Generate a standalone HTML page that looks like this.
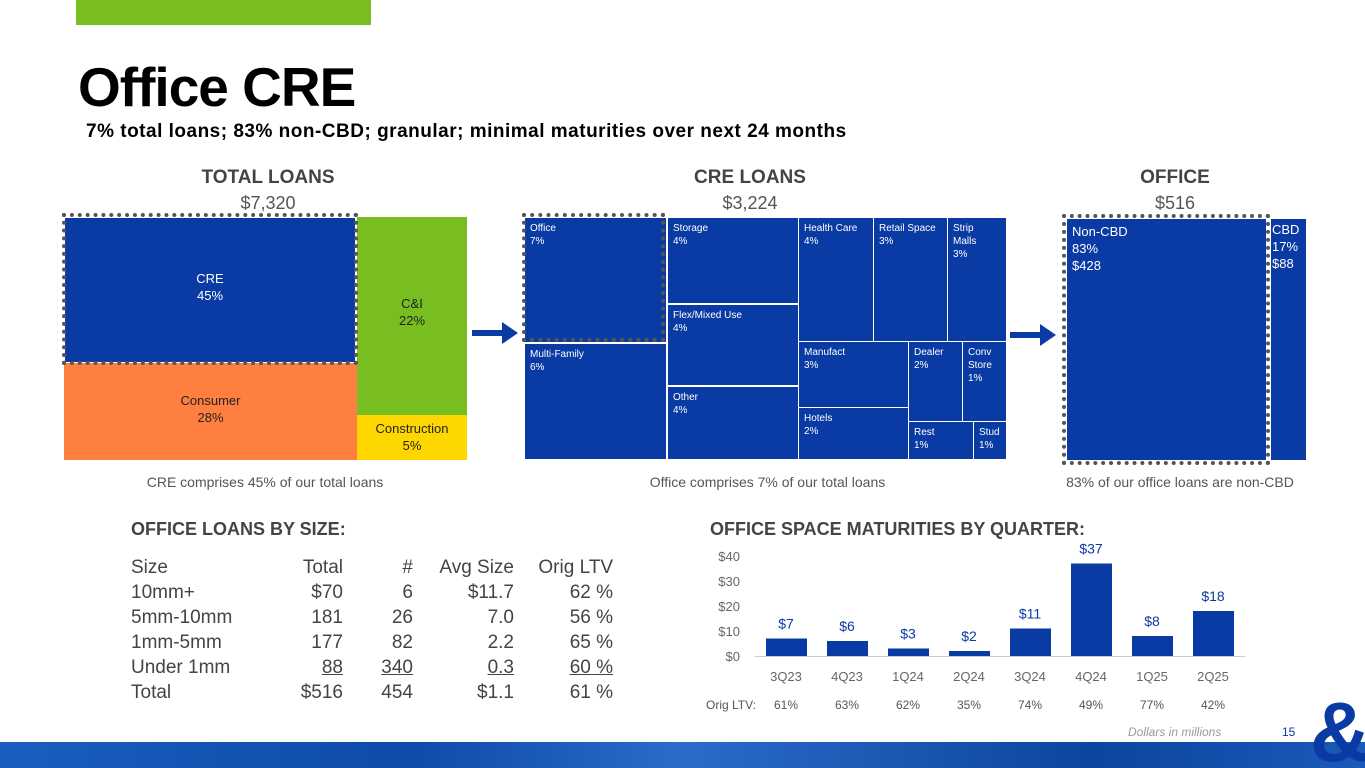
<!DOCTYPE html>
<html><head><meta charset="utf-8">
<style>
body{margin:0;width:1365px;height:768px;position:relative;overflow:hidden;background:#fff;font-family:"Liberation Sans",sans-serif;color:#444}
.a{position:absolute}
.c{position:absolute;box-sizing:border-box;color:#fff;font-size:10px;line-height:13px;padding:4px 5px;background:#0a3aa3;border:1px solid #fff}
.h{font-weight:bold;font-size:19px;color:#444;text-align:center}
.v{font-size:18px;color:#555;text-align:center}
.cap{font-size:14px;color:#555;text-align:center}
.dot{position:absolute;box-sizing:border-box;border:4px dotted #555}
.tr{position:absolute;left:0;width:1365px;height:24px;font-size:19px;color:#444}
.tr span{position:absolute;white-space:nowrap;top:0}
.u{text-decoration:underline}
</style></head><body>
<div class="a" style="left:76px;top:0;width:295px;height:25px;background:#78be20"></div>
<div class="a" style="left:78px;top:55px;font-size:55px;font-weight:bold;color:#000;letter-spacing:-1px">Office CRE</div>
<div class="a" style="left:86px;top:121px;font-size:19px;font-weight:bold;color:#000;letter-spacing:0.5px">7% total loans; 83% non-CBD; granular; minimal maturities over next 24 months</div>

<div class="a h" style="left:168px;top:167px;width:200px">TOTAL LOANS</div>
<div class="a v" style="left:168px;top:193px;width:200px">$7,320</div>
<div class="a h" style="left:650px;top:167px;width:200px">CRE LOANS</div>
<div class="a v" style="left:650px;top:193px;width:200px">$3,224</div>
<div class="a h" style="left:1075px;top:167px;width:200px">OFFICE</div>
<div class="a v" style="left:1075px;top:193px;width:200px">$516</div>

<div class="c" style="left:64px;top:217px;width:292px;height:146px;text-align:center;padding-top:52px;font-size:13px;line-height:17px">CRE<br>45%</div>
<div class="c" style="left:64px;top:363px;width:293px;height:97px;background:#ff7f41;color:#222;text-align:center;padding-top:29px;font-size:13px;line-height:17px;border:none">Consumer<br>28%</div>
<div class="c" style="left:357px;top:217px;width:110px;height:198px;background:#78be20;color:#222;text-align:center;padding-top:78px;font-size:13px;line-height:17px;border:none">C&amp;I<br>22%</div>
<div class="c" style="left:357px;top:415px;width:110px;height:45px;background:#ffd700;color:#222;text-align:center;padding-top:5px;font-size:13px;line-height:17px;border:none">Construction<br>5%</div>
<div class="dot" style="left:62px;top:213px;width:296px;height:152px"></div>
<div class="a cap" style="left:100px;top:474px;width:330px">CRE comprises 45% of our total loans</div>

<svg class="a" style="left:470px;top:320px" width="50" height="26"><path d="M2 10h30v-8l16 11-16 11v-8H2z" fill="#0a3aa3"/></svg>
<svg class="a" style="left:1008px;top:322px" width="50" height="26"><path d="M2 10h30v-8l16 11-16 11v-8H2z" fill="#0a3aa3"/></svg>

<div class="c" style="left:524px;top:217px;width:143px;height:126px">Office<br>7%</div>
<div class="c" style="left:524px;top:343px;width:143px;height:117px">Multi-Family<br>6%</div>
<div class="c" style="left:667px;top:217px;width:132px;height:87px">Storage<br>4%</div>
<div class="c" style="left:667px;top:304px;width:132px;height:82px">Flex/Mixed Use<br>4%</div>
<div class="c" style="left:667px;top:386px;width:132px;height:74px">Other<br>4%</div>
<div class="c" style="left:798px;top:217px;width:76px;height:125px">Health Care<br>4%</div>
<div class="c" style="left:873px;top:217px;width:75px;height:125px">Retail Space<br>3%</div>
<div class="c" style="left:947px;top:217px;width:60px;height:125px">Strip<br>Malls<br>3%</div>
<div class="c" style="left:798px;top:341px;width:111px;height:67px">Manufact<br>3%</div>
<div class="c" style="left:798px;top:407px;width:111px;height:53px">Hotels<br>2%</div>
<div class="c" style="left:908px;top:341px;width:55px;height:81px">Dealer<br>2%</div>
<div class="c" style="left:962px;top:341px;width:45px;height:81px">Conv<br>Store<br>1%</div>
<div class="c" style="left:908px;top:421px;width:66px;height:39px">Rest<br>1%</div>
<div class="c" style="left:973px;top:421px;width:34px;height:39px">Stud<br>1%</div>
<div class="dot" style="left:522px;top:213px;width:143px;height:129px"></div>
<div class="a cap" style="left:600px;top:474px;width:335px">Office comprises 7% of our total loans</div>

<div class="c" style="left:1066px;top:218px;width:201px;height:243px;font-size:13px;line-height:17px">Non-CBD<br>83%<br>$428</div>
<div class="c" style="left:1270px;top:218px;width:37px;height:243px;font-size:13px;line-height:17px;padding:2px 1px">CBD<br>17%<br>$88</div>
<div class="dot" style="left:1062px;top:214px;width:208px;height:251px"></div>
<div class="a cap" style="left:1020px;top:474px;width:320px">83% of our office loans are non-CBD</div>

<div class="a" style="left:131px;top:519px;font-size:18px;font-weight:bold;color:#444">OFFICE LOANS BY SIZE:</div>
<div>
<div class="tr" style="top:557px"><span style="left:131px">Size</span><span style="right:1022px">Total</span><span style="right:952px">#</span><span style="right:851px">Avg Size</span><span style="right:752px">Orig LTV</span></div>
<div class="tr" style="top:582px"><span style="left:131px">10mm+</span><span style="right:1022px">$70</span><span style="right:952px">6</span><span style="right:851px">$11.7</span><span style="right:752px">62 %</span></div>
<div class="tr" style="top:607px"><span style="left:131px">5mm-10mm</span><span style="right:1022px">181</span><span style="right:952px">26</span><span style="right:851px">7.0</span><span style="right:752px">56 %</span></div>
<div class="tr" style="top:632px"><span style="left:131px">1mm-5mm</span><span style="right:1022px">177</span><span style="right:952px">82</span><span style="right:851px">2.2</span><span style="right:752px">65 %</span></div>
<div class="tr" style="top:657px"><span style="left:131px">Under 1mm</span><span class="u" style="right:1022px">88</span><span class="u" style="right:952px">340</span><span class="u" style="right:851px">0.3</span><span class="u" style="right:752px">60 %</span></div>
<div class="tr" style="top:682px"><span style="left:131px">Total</span><span style="right:1022px">$516</span><span style="right:952px">454</span><span style="right:851px">$1.1</span><span style="right:752px">61 %</span></div>
</div>

<div class="a" style="left:710px;top:519px;font-size:18px;font-weight:bold;color:#444">OFFICE SPACE MATURITIES BY QUARTER:</div>
<svg class="a" style="left:0;top:0" width="1365" height="768" id="chart"></svg>

<div class="a" style="left:1128px;top:725px;font-size:12px;font-style:italic;color:#999">Dollars in millions</div>
<div class="a" style="left:1282px;top:725px;font-size:12px;color:#0a3aa3">15</div>
<div class="a" style="left:0;top:742px;width:1365px;height:26px;background:linear-gradient(90deg,#1a5fbf,#0d4ba8 30%,#2a6cc8 50%,#0b45a0 80%,#1a5ab8)"></div>
<div class="a" style="left:1310px;top:690px;width:55px;height:78px;overflow:hidden;font-size:84px;font-weight:bold;color:#0a3aa3;line-height:84px">&amp;</div>

<script>
const categories=["3Q23","4Q23","1Q24","2Q24","3Q24","4Q24","1Q25","2Q25"];
const values=[7,6,3,2,11,37,8,18];
const ltv=["61%","63%","62%","35%","74%","49%","77%","42%"];
const ticks=[0,10,20,30,40];
const svg=document.getElementById('chart');
const NS='http://www.w3.org/2000/svg';
const y=v=>656-v*2.5;
const x=i=>786+i*61;
function t(tx,xx,yy,anchor,size,fill){const e=document.createElementNS(NS,'text');e.textContent=tx;e.setAttribute('x',xx);e.setAttribute('y',yy);e.setAttribute('text-anchor',anchor);e.setAttribute('font-size',size);e.setAttribute('fill',fill);e.setAttribute('font-family','Liberation Sans, sans-serif');svg.appendChild(e);return e;}
ticks.forEach(v=>{const e=t('$'+v,740,y(v)+5,'end',13,'#666');

});
const base=document.createElementNS(NS,'line');
base.setAttribute('x1',755);base.setAttribute('x2',1245);base.setAttribute('y1',656.5);base.setAttribute('y2',656.5);base.setAttribute('stroke','#ccc');


svg.appendChild(base);
values.forEach((v,i)=>{
const r=document.createElementNS(NS,'rect');
r.setAttribute('x',x(i)-20);r.setAttribute('width',41);r.setAttribute('y',y(v));r.setAttribute('height',656-y(v));r.setAttribute('fill','#0a3aa3');


svg.appendChild(r);
const l=t('$'+v,x(i),y(v)-10,'middle',14,'#0a3aa3');


const c=t(categories[i],x(i),681,'middle',13,'#666');


const o=t(ltv[i],x(i),709,'middle',12,'#555');


});
const ol=t('Orig LTV:',756,709,'end',12,'#555');


</script>
</body></html>
